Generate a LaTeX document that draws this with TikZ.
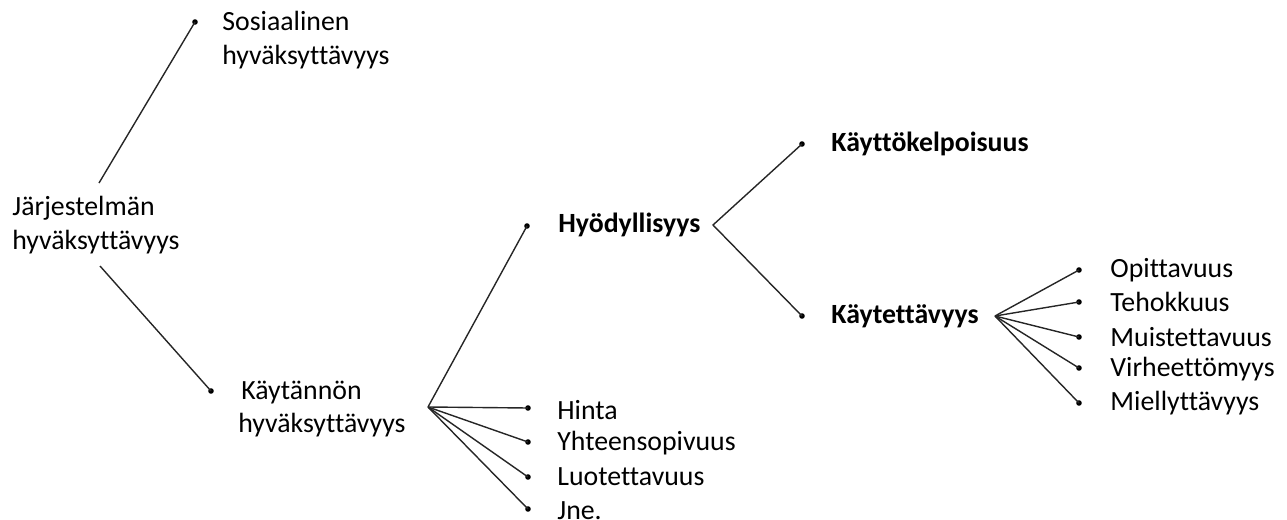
\documentclass[tikz,border=0pt]{standalone}
\usepackage{fontspec}
\setmainfont{Carlito}[Ligatures=NoCommon]
\begin{document}
\begin{tikzpicture}[x=0.5pt,y=-0.5pt,
  lbl/.style={inner sep=0pt, anchor=west, align=left, font=\fontsize{13.9}{16.8}\selectfont},
  bld/.style={lbl, font=\fontsize{13.9}{16.8}\selectfont\bfseries},
  dot/.style={circle, fill=black, inner sep=0pt, minimum size=2.8pt},
  link/.style={line width=0.7pt, black!85}]
\useasboundingbox (0,0) rectangle (1287,520);
% texts
\node[lbl] (sos) at (222,40) {Sosiaalinen\\hyväksyttävyys};
\node[lbl] (jar) at (12,225) {Järjestelmän\\hyväksyttävyys};
\node[lbl] (kay) at (238,409) {\hspace{1.5pt}Käytännön\\hyväksyttävyys};
\node[bld] (hyo) at (558,225) {Hyödyllisyys};
\node[lbl] (hin) at (557,410) {Hinta};
\node[lbl] (yht) at (557,443) {Yhteensopivuus};
\node[lbl] (luo) at (557,477) {Luotettavuus};
\node[lbl] (jne) at (557,511) {Jne.};
\node[bld] (kel) at (831,144) {Käyttökelpoisuus};
\node[bld] (ket) at (831,316) {Käytettävyys};
\node[lbl] (opi) at (1110,270) {Opittavuus};
\node[lbl] (teh) at (1110,302) {Tehokkuus};
\node[lbl] (mui) at (1110,337) {Muistettavuus};
\node[lbl] (vir) at (1110,369) {Virheettömyys};
\node[lbl] (mie) at (1110,403) {Miellyttävyys};
% dots
\node[dot] (dsos) at (195,22) {};
\node[dot] (dkay) at (211,391) {};
\node[dot] (dhyo) at (527,226) {};
\node[dot] (dhin) at (528,408) {};
\node[dot] (dyht) at (528,442) {};
\node[dot] (dluo) at (528,477) {};
\node[dot] (djne) at (528,509) {};
\node[dot] (dkel) at (802,144) {};
\node[dot] (dket) at (802,316) {};
\node[dot] (dopi) at (1079,270) {};
\node[dot] (dteh) at (1079,302) {};
\node[dot] (dmui) at (1079,337) {};
\node[dot] (dvir) at (1079,368) {};
\node[dot] (dmie) at (1079,403) {};
% apexes
\coordinate (jtop) at (99,183);
\coordinate (jbot) at (100,266);
\coordinate (kap) at (428,407);
\coordinate (hap) at (713,225);
\coordinate (tap) at (995,316);
% connectors
\draw[link] (jtop) -- (dsos.center);
\draw[link] (jbot) -- (dkay.center);
\draw[link] (kap) -- (dhyo.center);
\draw[link] (kap) -- (dhin.center);
\draw[link] (kap) -- (dyht.center);
\draw[link] (kap) -- (dluo.center);
\draw[link] (kap) -- (djne.center);
\draw[link] (dkel.center) -- (hap) -- (dket.center);
\draw[link] (tap) -- (dopi.center);
\draw[link] (tap) -- (dteh.center);
\draw[link] (tap) -- (dmui.center);
\draw[link] (tap) -- (dvir.center);
\draw[link] (tap) -- (dmie.center);
\end{tikzpicture}
\end{document}
